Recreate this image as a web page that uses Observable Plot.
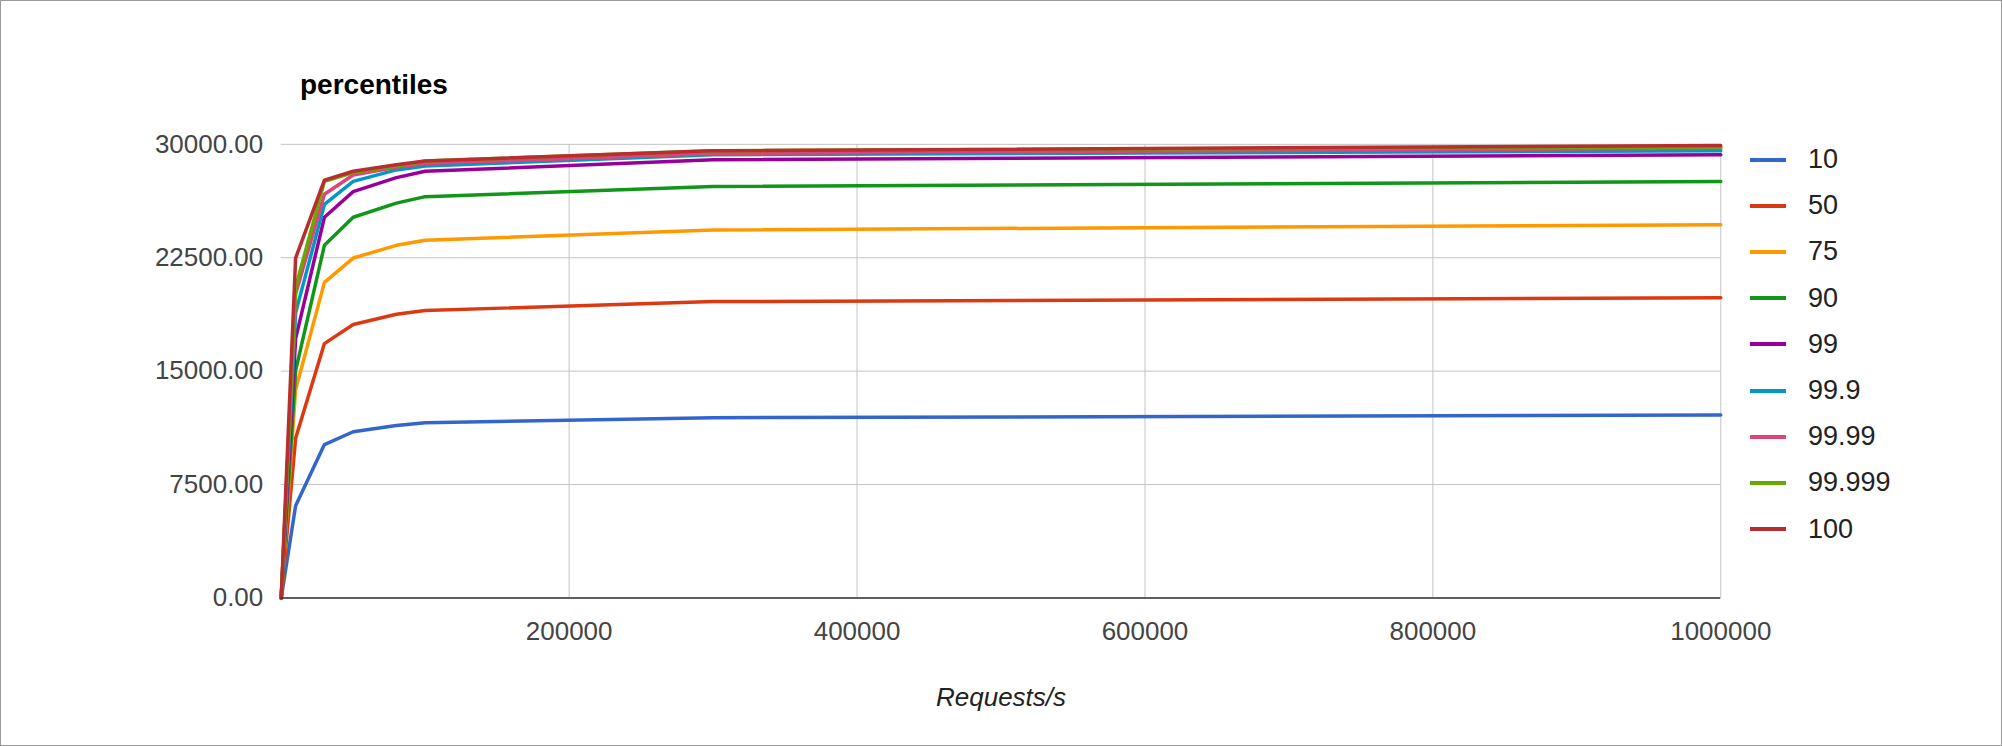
<!DOCTYPE html>
<html>
<head>
<meta charset="utf-8">
<script src="https://cdn.jsdelivr.net/npm/d3@7"></script>
<script src="https://cdn.jsdelivr.net/npm/@observablehq/plot@0.6"></script>
<style>
  body { margin: 0; background: #fff; font-family: Arial, "Liberation Sans", sans-serif; }
  #wrap { position: relative; width: 2000px; height: 744px; border: 1px solid #9a9a9a; overflow: hidden; }
  #wrap svg { position: absolute; left: -1px; top: -1px; }
  #title { position: absolute; left: 299px; top: 68px; font-weight: bold; font-size: 28px; color: #000; }
  #legend { position: absolute; left: 1749px; top: 0; font-size: 27px; color: #222; }
  .item { position: absolute; display: flex; align-items: center; white-space: nowrap; }
  .sw { width: 36px; height: 4px; margin-right: 22px; }
</style>
</head>
<body>
<div id="wrap"><div id="title">percentiles</div><div id="legend"></div></div>
<script>
const requests = [0, 10000, 30000, 50000, 80000, 100000, 300000, 1000000];
const percentiles = ["10", "50", "75", "90", "99", "99.9", "99.99", "99.999", "100"];
const colors = ["#3366cc", "#dc3912", "#ff9900", "#109618", "#990099", "#0099c6", "#dd4477", "#66aa00", "#b82e2e"];
const values = {
  "10":     [0, 6100, 10140, 10990, 11400, 11580, 11920, 12090],
  "50":     [0, 10560, 16820, 18080, 18760, 19010, 19600, 19860],
  "75":     [0, 13770, 20870, 22480, 23320, 23660, 24340, 24680],
  "90":     [0, 15040, 23320, 25180, 26110, 26540, 27210, 27550],
  "99":     [0, 17150, 25180, 26870, 27800, 28220, 28980, 29320],
  "99.9":   [0, 18850, 26030, 27550, 28310, 28560, 29320, 29580],
  "99.99":  [0, 20100, 26700, 27970, 28480, 28730, 29400, 29750],
  "99.999": [0, 20540, 27550, 28140, 28560, 28900, 29580, 29830],
  "100":    [0, 22480, 27630, 28220, 28650, 28900, 29580, 29920]
};
const yTicks = [0, 7500, 15000, 22500, 30000];
const xTicks = [200000, 400000, 600000, 800000, 1000000];

const rows = percentiles.flatMap(p => requests.map((r, i) => ({p, r, v: values[p][i]})));

const chart = Plot.plot({
  width: 2002, height: 746,
  marginLeft: 281, marginRight: 280, marginTop: 144, marginBottom: 148,
  style: {fontSize: "26px", fontFamily: "Arial, 'Liberation Sans', sans-serif", color: "#444"},
  x: {domain: [0, 1000000], label: null},
  y: {domain: [0, 30000], label: null},
  color: {domain: percentiles, range: colors},
  marks: [
    Plot.gridY(yTicks, {stroke: "#c4c4c4", strokeOpacity: 1}),
    Plot.gridX(xTicks, {stroke: "#c4c4c4", strokeOpacity: 1}),
    Plot.axisY({ticks: yTicks, tickFormat: ".2f", tickSize: 0, tickPadding: 18, label: null}),
    Plot.axisX({ticks: xTicks, tickFormat: d => String(d), tickSize: 0, tickPadding: 24,
      label: "Requests/s", labelAnchor: "center", labelArrow: "none", labelOffset: 108}),
    Plot.lineY(rows, {x: "r", y: "v", z: "p", stroke: "p", strokeWidth: 3.5}),
    Plot.ruleY([0], {stroke: "#333", strokeWidth: 1.5})
  ]
});
document.getElementById("wrap").append(chart);
d3.select(chart).selectAll("[aria-label='x-axis label'] text").attr("font-style", "italic").attr("fill", "#222");

const legend = document.getElementById("legend");
percentiles.forEach((p, i) => {
  const it = document.createElement("div");
  it.className = "item";
  it.style.top = (143 + i * 46.2) + "px";
  it.innerHTML = `<span class="sw" style="background:${colors[i]}"></span><span>${p}</span>`;
  legend.append(it);
});
</script>
</body>
</html>
